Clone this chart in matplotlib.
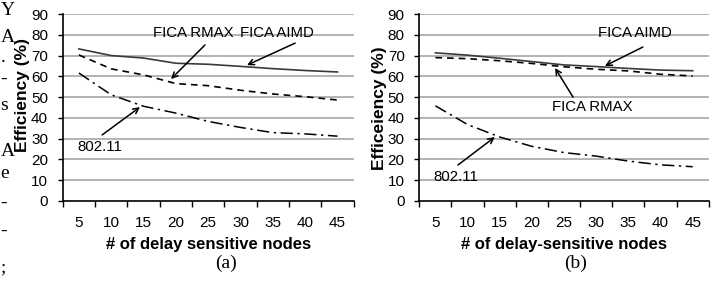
import matplotlib
matplotlib.use("Agg")
import matplotlib.pyplot as plt

nodes = [5, 10, 15, 20, 25, 30, 35, 40, 45]

# (a) delay sensitive nodes
a_aimd = [73.2, 70.0, 68.8, 66.3, 65.8, 64.8, 63.7, 62.8, 62.1]
a_rmax = [70.3, 63.6, 60.7, 56.5, 55.5, 53.3, 51.5, 50.2, 48.6]
a_dot11 = [61.6, 51.1, 45.6, 42.3, 38.3, 35.4, 32.9, 32.3, 31.2]

# (b) delay-sensitive nodes
b_aimd = [71.3, 70.2, 68.7, 67.1, 65.5, 64.7, 63.8, 63.0, 62.7]
b_rmax = [69.0, 68.5, 67.5, 66.2, 64.6, 63.4, 62.6, 61.0, 60.2]
b_dot11 = [45.8, 36.8, 30.8, 26.3, 23.3, 21.6, 19.2, 17.4, 16.5]

W, H = 721, 286
plt.rcParams['font.family'] = ['Liberation Sans', 'DejaVu Sans']
fig = plt.figure(figsize=(W / 100, H / 100), dpi=100)


def px(x, y):
    return x / W, 1 - y / H


def panel(left, right, aimd, rmax, dot11, ylabel, xlabel, tag, tag_x, ylab_y, notes):
    ax = fig.add_axes([left / W, 85 / H, (right - left) / W, 187 / H])
    idx = list(range(len(nodes)))
    for yy in range(10, 91, 10):
        ax.axhline(yy, color='#b3b3b3', lw=1.4, zorder=0)
    ax.plot(idx, aimd, color='#3a3a3a', lw=1.2, ls='-')
    ax.plot(idx, rmax, color='black', lw=1.2, ls=(0, (4, 3)))
    ax.plot(idx, dot11, color='black', lw=1.1, ls=(0, (8, 3, 1.5, 3)))
    ax.set_xlim(-0.5, len(nodes) - 0.5)
    ax.set_ylim(0, 90)
    ax.set_yticks(range(0, 91, 10))
    ax.set_xticks([i - 0.5 for i in range(len(nodes) + 1)])
    ax.set_xticklabels([])
    ax.set_xticks(idx, minor=True)
    ax.set_xticklabels([str(n) for n in nodes], minor=True)
    ax.tick_params(axis='x', which='major', length=4, width=1, direction='out')
    ax.tick_params(axis='x', which='minor', length=0, pad=11, labelsize=11)
    ax.tick_params(axis='y', length=3.5, width=1, direction='out', pad=7, labelsize=11)
    for s in ['top', 'right']:
        ax.spines[s].set_visible(False)
    for s in ['left', 'bottom']:
        ax.spines[s].set_linewidth(1.2)
    arrow = dict(arrowstyle='->', color='black', lw=1.1, shrinkA=0, shrinkB=0)
    for label, tx, ty, ax0, ay0, ax1, ay1 in notes:
        ax.text(tx, ty, label, ha='center', va='center', fontsize=10.8)
        ax.annotate('', xy=(ax1, ay1), xytext=(ax0, ay0), arrowprops=arrow)
    mid = (left + right) / 2
    fig.text(*px(mid, 245), xlabel, ha='center', va='center', fontsize=12, fontweight='bold')
    fig.text(*px(tag_x, 263), tag, ha='center', va='center', fontsize=14,
             family='Liberation Serif')
    fig.text(*px(left - 40, ylab_y), ylabel, ha='center', va='center', rotation=90,
             fontsize=12.5, fontweight='bold')
    return ax


panel(62.7, 353.7, a_aimd, a_rmax, a_dot11, 'Efficiency (%)',
      '# of delay sensitive nodes', '(a)', 226, 95,
      [('FICA RMAX', 3.55, 80.8, 3.90, 75.1, 2.85, 58.7),
       ('FICA AIMD', 6.14, 80.8, 6.69, 76.0, 5.2, 65.4),
       ('802.11', 0.65, 26.0, 0.72, 31.8, 1.89, 45.2)])

panel(419.3, 708.8, b_aimd, b_rmax, b_dot11, 'Efficeiency (%)',
      '# of delay-sensitive nodes', '(b)', 576, 108,
      [('FICA AIMD', 6.2, 80.8, 6.45, 74.1, 5.27, 65.0),
       ('FICA RMAX', 4.87, 45.2, 4.28, 50.0, 3.72, 64.0),
       ('802.11', 0.64, 11.5, 0.70, 17.3, 1.85, 30.8)])

# fragments of the surrounding paper text cut off at the left edge
margin = [('Y', 15), ('A', 42), ('.', 62), ('-', 84), ('s', 110), ('A', 156),
          ('e', 178), ('-', 208), ('-', 236), (';', 272)]
for ch, base in margin:
    fig.text(*px(0.5, base), ch, ha='left', va='baseline', fontsize=14,
             family='Liberation Serif')

fig.savefig('out.png', dpi=100)
